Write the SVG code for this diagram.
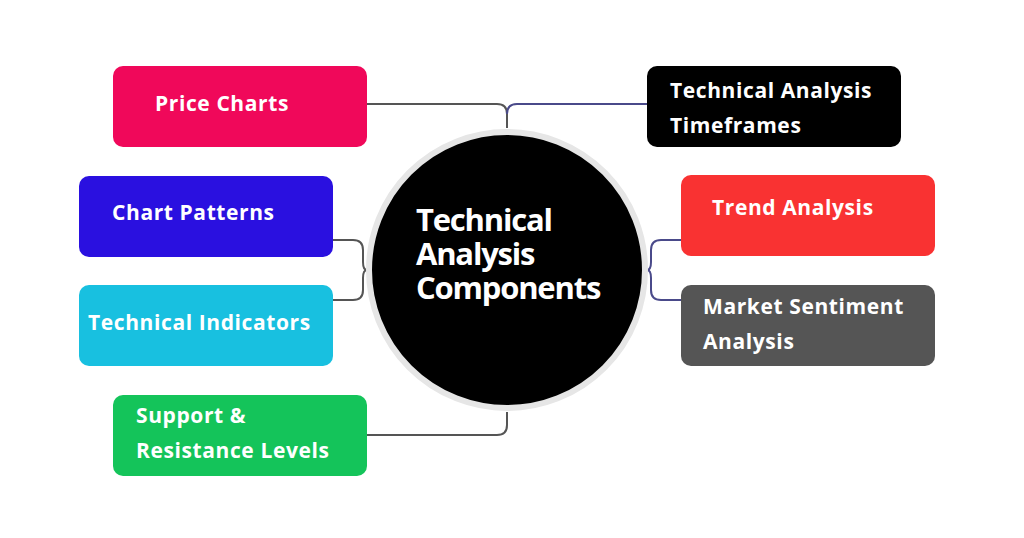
<svg xmlns="http://www.w3.org/2000/svg" width="1024" height="538" viewBox="0 0 1024 538">
<style>
.lbl{font-family:"Open Sans","DejaVu Sans",sans-serif;font-weight:700;font-size:21px;fill:#fff;letter-spacing:0.6px}
.ctr{font-family:"Open Sans","DejaVu Sans",sans-serif;font-weight:700;font-size:31px;fill:#fff;letter-spacing:-1.2px}
.cl{fill:none;stroke:#555;stroke-width:2}
.cr{fill:none;stroke:#4a4a8a;stroke-width:2}
</style>
<rect width="1024" height="538" fill="#fff"/>
<g id="connectors">
<path class="cl" d="M367 104 H497 Q507 104 507 114 V128"/>
<path class="cr" d="M647 104 H517 Q507 104 507 114"/>
<path class="cl" d="M367 435 H497 Q507 435 507 425 V412"/>
<path class="cl" d="M333 240 H353 Q363 240 363 250 V262 Q363 270 367 270"/>
<path class="cl" d="M333 300 H353 Q363 300 363 290 V278 Q363 270 367 270"/>
<path class="cr" d="M681 240 H661 Q651 240 651 250 V262 Q651 270 647 270"/>
<path class="cr" d="M681 300 H661 Q651 300 651 290 V278 Q651 270 647 270"/>
</g>
<g id="center">
<circle cx="507" cy="270" r="138" fill="#000" stroke="#e6e6e6" stroke-width="6"/>
<text class="ctr" x="416" y="231">Technical</text>
<text class="ctr" x="416" y="265">Analysis</text>
<text class="ctr" x="416" y="299">Components</text>
</g>
<g id="price-charts"><rect x="113" y="66" width="254" height="81" rx="10" fill="#f0085a"/><text class="lbl" x="155" y="111">Price Charts</text></g>
<g id="chart-patterns"><rect x="79" y="176" width="254" height="81" rx="10" fill="#2a10e0"/><text class="lbl" x="112" y="220">Chart Patterns</text></g>
<g id="technical-indicators"><rect x="79" y="285" width="254" height="81" rx="10" fill="#18c0e0"/><text class="lbl" x="88" y="330">Technical Indicators</text></g>
<g id="support-resistance"><rect x="113" y="395" width="254" height="81" rx="10" fill="#14c45a"/><text class="lbl" x="136" y="423">Support &amp;</text><text class="lbl" x="136" y="458">Resistance Levels</text></g>
<g id="timeframes"><rect x="647" y="66" width="254" height="81" rx="10" fill="#000"/><text class="lbl" x="670" y="98">Technical Analysis</text><text class="lbl" x="670" y="133">Timeframes</text></g>
<g id="trend-analysis"><rect x="681" y="175" width="254" height="81" rx="10" fill="#f93232"/><text class="lbl" x="712" y="215">Trend Analysis</text></g>
<g id="market-sentiment"><rect x="681" y="285" width="254" height="81" rx="10" fill="#555"/><text class="lbl" x="703" y="314">Market Sentiment</text><text class="lbl" x="703" y="349">Analysis</text></g>
</svg>
